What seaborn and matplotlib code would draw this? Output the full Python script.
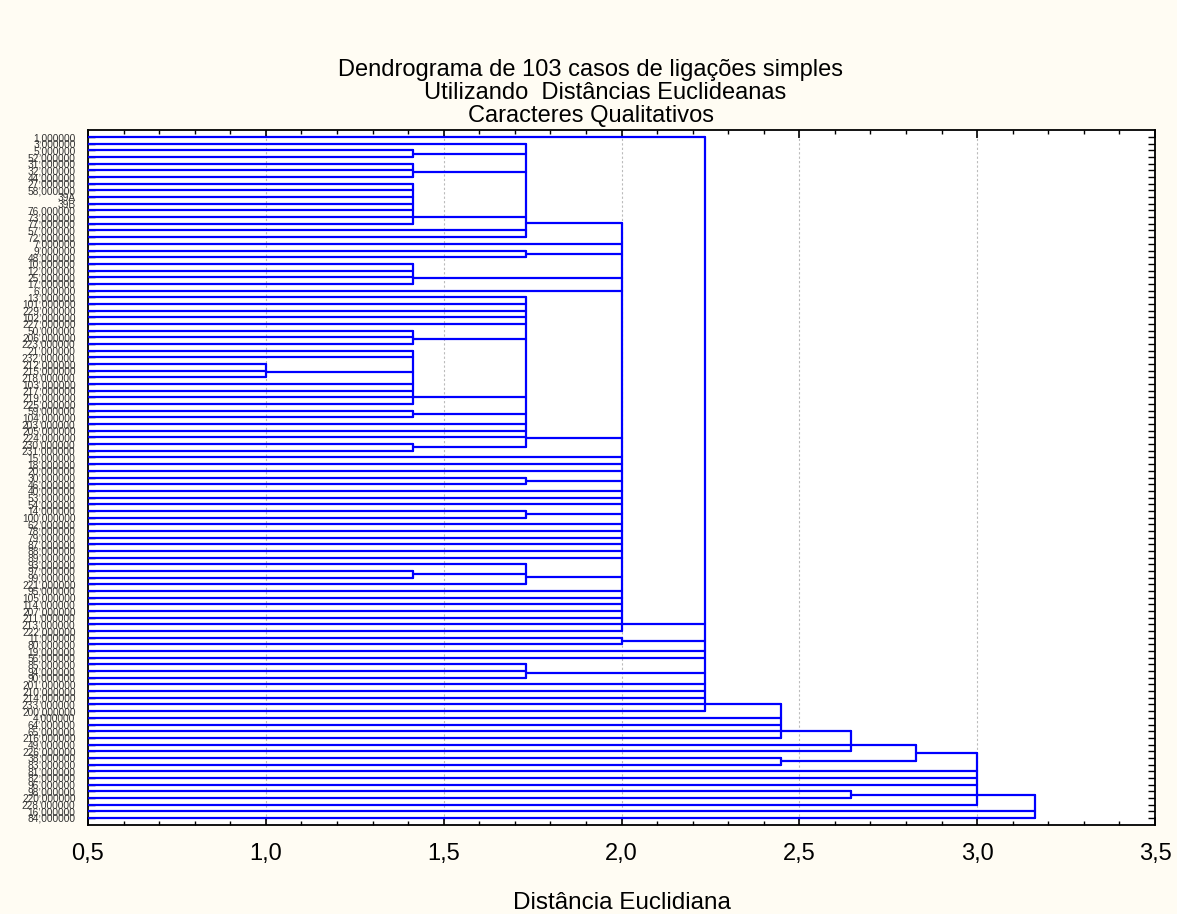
import numpy as np
import pandas as pd
import matplotlib

matplotlib.use("Agg")
import matplotlib.pyplot as plt
import seaborn as sns
from matplotlib.ticker import MultipleLocator

# leaf order, top to bottom
cases = ["1", "3", "5", "52", "31", "32", "44", "27", "58", "39A",
         "39B", "76", "73", "77", "57", "72", "7", "9", "48", "10",
         "12", "25", "17", "6", "13", "101", "229", "102", "227", "50",
         "206", "223", "21", "232", "212", "215", "218", "103", "217", "219",
         "225", "59", "104", "203", "205", "224", "230", "231", "15", "18",
         "20", "30", "46", "40", "53", "54", "14", "100", "62", "78",
         "79", "87", "88", "89", "93", "97", "99", "221", "95", "105",
         "114", "207", "211", "213", "222", "11", "80", "19", "56", "85",
         "94", "90", "201", "210", "214", "233", "200", "4", "64", "65",
         "216", "49", "226", "38", "83", "81", "82", "96", "98", "220",
         "228", "16", "84"]

# clusters: (linkage distance, members)
clu_a = (1.732, ["3", (1.414, ["5", "52"]), (1.414, ["31", "32", "44"]),
                 (1.414, ["27", "58", "39A", "39B", "76", "73", "77"]),
                 "57", "72"])
clu_b = (1.732, ["13", "101", "229", "102", "227",
                 (1.414, ["50", "206", "223"]),
                 (1.414, ["21", "232", (1.0, ["212", "215", "218"]),
                          "103", "217", "219", "225"]),
                 (1.414, ["59", "104"]), "203", "205", "224",
                 (1.414, ["230", "231"])])
clu_c = (2.0, [clu_a, "7", (1.732, ["9", "48"]),
               (1.414, ["10", "12", "25", "17"]), "6", clu_b,
               "15", "18", "20", (1.732, ["30", "46"]), "40", "53", "54",
               (1.732, ["14", "100"]), "62", "78", "79", "87", "88", "89",
               (1.732, ["93", (1.414, ["97", "99"]), "221"]),
               "95", "105", "114", "207", "211", "213", "222"])
clu_d = (2.236, ["1", clu_c, (2.0, ["11", "80"]), "19", "56",
                 (1.732, ["85", "94", "90"]),
                 "201", "210", "214", "233", "200"])
clu_e = (2.449, [clu_d, "4", "64", "65", "216"])
clu_f = (2.646, [clu_e, "49", "226"])
clu_g = (2.828, [clu_f, (2.449, ["38", "83"])])
clu_h = (3.0, [clu_g, "81", "82", "96", (2.646, ["98", "220"]), "228"])
clu_root = (3.162, [clu_h, "16", "84"])

x_ticks = [0.5, 1.0, 1.5, 2.0, 2.5, 3.0, 3.5]

# ---- build line segments from the tree ----
leaf_pos = {c: i for i, c in enumerate(cases)}
segs = []


def add_seg(x0, y0, x1, y1):
    k = len(segs) // 2
    segs.append((k, x0, y0))
    segs.append((k, x1, y1))


def walk(node):
    # cluster line sits where successive pairwise merges put it
    h, members = node
    pos_list = []
    pos = None
    for m in members:
        if isinstance(m, tuple):
            p = walk(m)
            add_seg(m[0], p, h, p)
        else:
            p = leaf_pos[m]
            add_seg(0.5, p, h, p)
        pos_list.append(p)
        pos = p if pos is None else (pos + p) / 2
    add_seg(h, min(pos_list), h, max(pos_list))
    return pos


walk(clu_root)
seg_df = pd.DataFrame(segs, columns=["seg", "x", "y"])

sns.set_style("white")
plt.rcParams["font.family"] = ["Liberation Sans", "DejaVu Sans"]
plt.rcParams["text.color"] = "black"
plt.rcParams["xtick.color"] = "black"
plt.rcParams["ytick.color"] = "black"

W, H = 1177, 914
fig = plt.figure(figsize=(W / 100, H / 100), dpi=100, facecolor="#FFFCF3")
ax = fig.add_axes([88 / W, 1 - 825 / H, (1155 - 88) / W, (825 - 130) / H])
ax.set_facecolor("white")

sns.lineplot(data=seg_df, x="x", y="y", units="seg", estimator=None,
             sort=False, color="#0000FF", linewidth=1.6, ax=ax,
             legend=False, zorder=3)

ax.set_xlim(0.5, 3.5)
ax.set_ylim(len(cases) - 1 + 1.05, -1.05)
ax.set_xticks(x_ticks)
ax.set_xticklabels([f"{v:.1f}".replace(".", ",") for v in x_ticks],
                   fontsize=17)
ax.xaxis.set_minor_locator(MultipleLocator(0.1))
ax.set_yticks(range(len(cases)))
ax.set_yticklabels([c if c.startswith("39") else c + ",000000" for c in cases],
                   fontsize=7.3, color="#333333")
ax.tick_params(axis="x", which="major", direction="in", length=6, width=1.2,
               top=True, bottom=True, pad=13)
ax.tick_params(axis="x", which="minor", direction="in", length=3, width=1,
               top=True, bottom=True)
ax.tick_params(axis="y", which="major", direction="in", length=5, width=1,
               left=True, right=True, pad=9)

ax.xaxis.grid(True, which="major", color="#BBBBBB", linestyle=(0, (2, 2)),
              linewidth=0.8)
ax.set_axisbelow(True)
for sp in ax.spines.values():
    sp.set_color("black")
    sp.set_linewidth(1.3)

ax.set_xlabel("")
ax.set_ylabel("")
fig.text(0.5 * (88 + 1155) / W, 1 - 903 / H, "Distância Euclidiana",
         ha="center", va="center", fontsize=17.5)

fig.text(591 / W, 1 - 70 / H, "Dendrograma de 103 casos de ligações simples",
         ha="center", va="center", fontsize=17)
fig.text(605 / W, 1 - 93 / H, "Utilizando  Distâncias Euclideanas",
         ha="center", va="center", fontsize=17)
fig.text(591 / W, 1 - 116 / H, "Caracteres Qualitativos",
         ha="center", va="center", fontsize=17)

fig.savefig("out.png", dpi=100, facecolor=fig.get_facecolor())
plt.close(fig)
